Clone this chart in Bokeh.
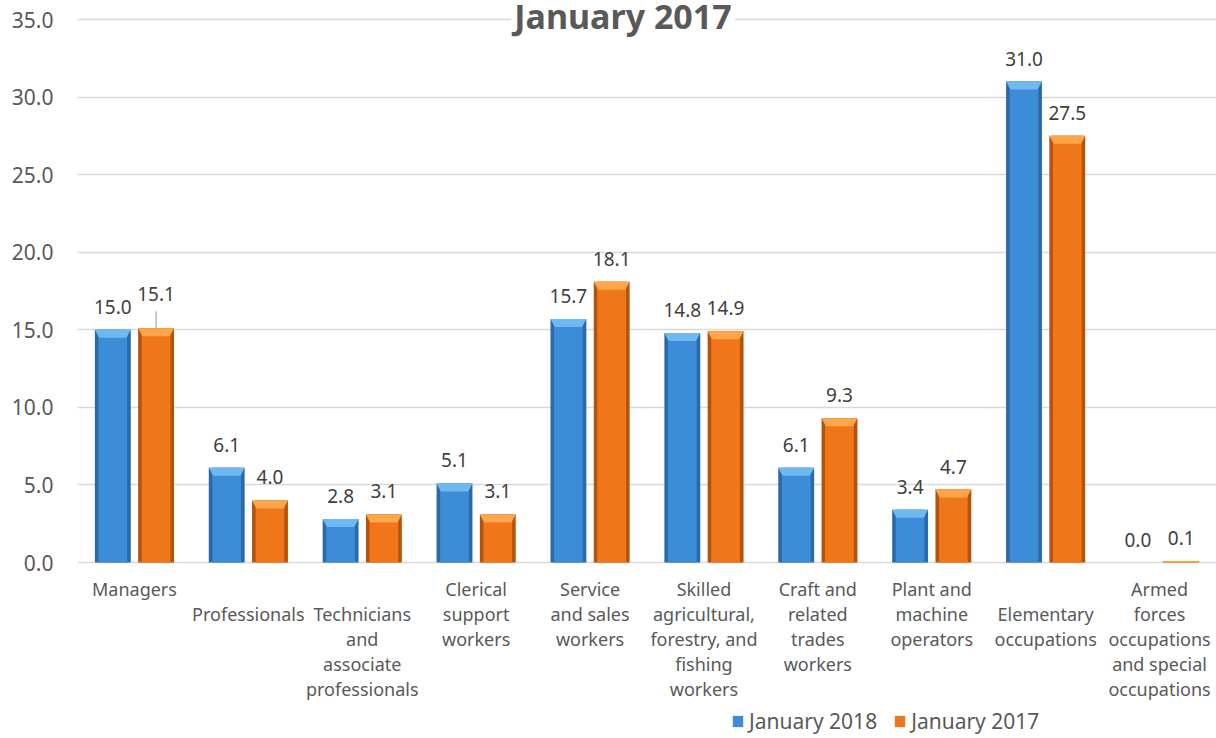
from bokeh.plotting import figure
from bokeh.models import (ColumnDataSource, LabelSet, Label, Legend, LegendItem,
                          FixedTicker, NumeralTickFormatter, FactorRange, Range1d)
from bokeh.core.properties import value
from bokeh.transform import dodge
from bokeh.embed import file_html
from bokeh.resources import INLINE

categories = ["Managers", "Professionals", "Technicians and associate professionals",
              "Clerical support workers", "Service and sales workers",
              "Skilled agricultural, forestry, and fishing workers",
              "Craft and related trades workers", "Plant and machine operators",
              "Elementary occupations", "Armed forces occupations and special occupations"]
tick_labels = ["Managers", "\nProfessionals", "\nTechnicians\nand\nassociate\nprofessionals",
               "Clerical\nsupport\nworkers", "Service\nand sales\nworkers",
               "Skilled\nagricultural,\nforestry, and\nfishing\nworkers",
               "Craft and\nrelated\ntrades\nworkers", "Plant and\nmachine\noperators",
               "\nElementary\noccupations",
               "Armed\nforces\noccupations\nand special\noccupations"]
jan_2018 = [15.0, 6.1, 2.8, 5.1, 15.7, 14.8, 6.1, 3.4, 31.0, 0.0]
jan_2017 = [15.1, 4.0, 3.1, 3.1, 18.1, 14.9, 9.3, 4.7, 27.5, 0.1]
series_names = ["January 2018", "January 2017"]
y_ticks = [0, 5, 10, 15, 20, 25, 30, 35]
title_text = "January 2017"

FONT = "Noto Sans"
TXT = "#595959"
BAR_W = 0.315
OFFSET = 0.19

W, H = 1216, 738
LEFT, TOP = 77, 19
PLOT_H_DATA = 543          # pixels between 0 and 35
BELOW = H - TOP - PLOT_H_DATA
ppu = PLOT_H_DATA / y_ticks[-1]
y_min = -BELOW / ppu
y_max = y_ticks[-1] + TOP / ppu
LINE_FIRST, LINE_PITCH = 26, 25

p = figure(width=W, height=H, x_range=FactorRange(*categories, range_padding=0),
           y_range=Range1d(y_min, y_max), output_backend="svg", toolbar_location=None,
           min_border_left=LEFT, min_border_right=0, min_border_top=0, min_border_bottom=0)
p.outline_line_color = None
p.background_fill_color = "white"
p.border_fill_color = "white"

p.ygrid.ticker = FixedTicker(ticks=y_ticks)
p.ygrid.grid_line_color = "#d9d9d9"
p.ygrid.grid_line_width = 1.5
p.xgrid.grid_line_color = None
p.xaxis.visible = False

p.yaxis.ticker = FixedTicker(ticks=y_ticks)
p.yaxis.formatter = NumeralTickFormatter(format="0.0")
p.yaxis.axis_line_color = None
p.yaxis.major_tick_line_color = None
p.yaxis.minor_tick_line_color = None
p.yaxis.major_label_text_font = FONT
p.yaxis.major_label_text_font_size = "21px"
p.yaxis.major_label_text_color = TXT
p.yaxis.major_label_standoff = 18

# category labels under the zero line, one centred line at a time
rows = dict(cat=[], txt=[], y=[], yoff=[])
for cat, lab in zip(categories, tick_labels):
    for j, line in enumerate(lab.split("\n")):
        if line:
            rows["cat"].append(cat)
            rows["txt"].append(line)
            rows["y"].append(0)
            rows["yoff"].append(-(LINE_FIRST + j * LINE_PITCH))
p.add_layout(LabelSet(x="cat", y="y", text="txt", source=ColumnDataSource(rows), y_offset="yoff",
                      text_align="center", text_baseline="middle",
                      text_font=value(FONT), text_font_size=value("18px"),
                      text_color=value(TXT)))

cap_px = 8
styles = [
    dict(edge="#2b6aa9", main="#3d8cd8", cap="#6fb9f2"),
    dict(edge="#b5530d", main="#ef7719", cap="#ffa64a"),
]
lift = [[0] * 10, [11, 0, 0, 0, 0, 0, 0, 0, 0, 0]]

legend_items = []
for k, (vals, off) in enumerate([(jan_2018, -OFFSET), (jan_2017, OFFSET)]):
    st = styles[k]
    xs, ys = [], []
    for i, v in enumerate(vals):
        xc = i + 0.5 + off
        h = min(v, cap_px / ppu)
        d = BAR_W * 0.12 * (h / (cap_px / ppu)) if v > 0 else 0
        xs.append([xc - BAR_W / 2, xc + BAR_W / 2, xc + BAR_W / 2 - d, xc - BAR_W / 2 + d])
        ys.append([v, v, v - h, v - h])
    src = ColumnDataSource(dict(
        cat=categories, val=vals,
        lbl=[f"{v:.1f}" for v in vals],
        yoff=[16 + l for l in lift[k]],
    ))
    xd = dodge("cat", off, range=p.x_range)
    p.vbar(x=xd, top="val", width=BAR_W, bottom=0, source=src,
           fill_color=st["edge"], line_color=None)
    r = p.vbar(x=xd, top="val", width=BAR_W * 0.8, bottom=0, source=src,
               fill_color=st["main"], line_color=None)
    p.patches(xs=xs, ys=ys, fill_color=st["cap"], line_color=None)
    labels = LabelSet(x=xd, y="val", text="lbl",
                      y_offset="yoff", source=src, text_align="center", text_baseline="alphabetic",
                      text_font=value(FONT), text_font_size=value("19px"), text_color=value("#404040"))
    p.add_layout(labels)
    legend_items.append(LegendItem(label=series_names[k], renderers=[r]))

# leader line for the lifted Managers 2017 label
lead_src = ColumnDataSource(dict(cat=[categories[0]], y0=[jan_2017[0]],
                                 y1=[jan_2017[0] + 17 / ppu]))
p.segment(x0=dodge("cat", OFFSET, range=p.x_range), y0="y0",
          x1=dodge("cat", OFFSET, range=p.x_range), y1="y1",
          source=lead_src, line_color="#a6a6a6", line_width=1.2)

title = Label(x=len(categories) / 2, y=y_ticks[-1], text=title_text, text_align="center",
              text_baseline="alphabetic", y_offset=4, x_offset=-24,
              text_font=FONT, text_font_size="34px",
              text_font_style="bold", text_color=TXT, background_fill_color="white",
              padding=3)
p.add_layout(title)

legend = Legend(items=legend_items, orientation="horizontal", location=(654, 3),
                label_text_font=FONT, label_text_font_size="21px", label_text_color=TXT,
                glyph_width=13, glyph_height=14, label_standoff=5, spacing=16,
                padding=0, margin=0, border_line_color=None, background_fill_alpha=0)
p.add_layout(legend, "center")

open("out.html", "w").write(file_html(p, INLINE))
